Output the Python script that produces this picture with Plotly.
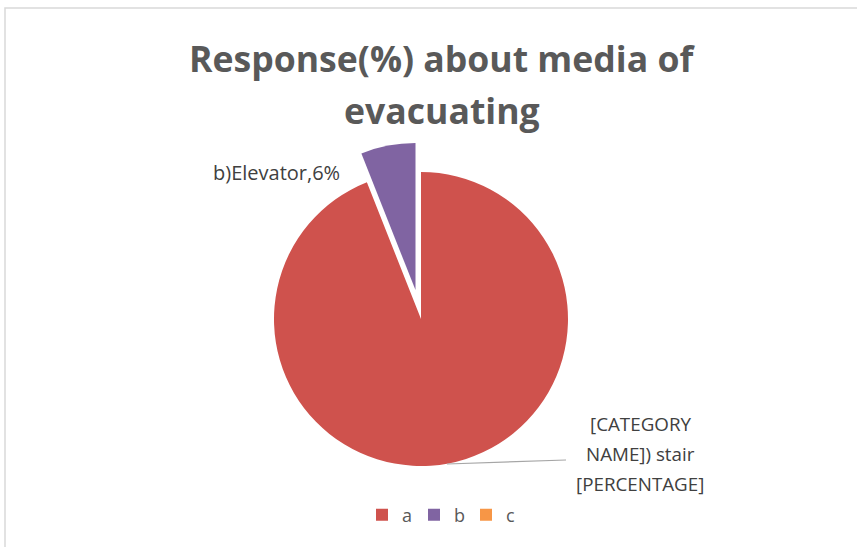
import plotly.graph_objects as go

# Data
categories = ["a", "b", "c"]
values = [94, 6, 0]
slice_colors = ["#CF524D", "#8064A2", "#F79646"]
pulls = [0, 0.2, 0]
label_a_lines = ["[CATEGORY", "NAME]) stair", "[PERCENTAGE]"]
label_b = "b)Elevator,6%"
title_lines = ["Response(%) about media of", "evacuating"]

W, H = 857, 547
cx, cy = 421, 319          # pie centre in px
R_out = 147 * 1.2          # radius incl. pull

fig = go.Figure(go.Pie(
    labels=categories,
    values=values,
    marker=dict(colors=slice_colors, line=dict(width=0)),
    pull=pulls,
    sort=False,
    direction="clockwise",
    rotation=0,
    textinfo="none",
    hoverinfo="label+percent",
    domain=dict(x=[(cx - 200) / W, (cx + 200) / W],
                y=[(H - cy - R_out) / H, (H - cy + R_out) / H]),
))

gray = "#595959"
annots = []
for txt, ypx in zip(title_lines, [58, 110]):
    annots.append(dict(text="<b>" + txt + "</b>", x=442 / W, y=(H - ypx) / H,
                       xref="paper", yref="paper", showarrow=False,
                       font=dict(size=35.6, color=gray, family="Open Sans"),
                       xanchor="center", yanchor="middle"))
annots.append(dict(text=label_b, x=276 / W, y=(H - 172) / H, xref="paper", yref="paper",
                   showarrow=False, font=dict(size=20, color="#404040"),
                   xanchor="center", yanchor="middle"))
for txt, ypx in zip(label_a_lines, [424, 454, 484]):
    annots.append(dict(text=txt, x=640 / W, y=(H - ypx) / H, xref="paper", yref="paper",
                       showarrow=False, font=dict(size=18.8, color="#404040"),
                       xanchor="center", yanchor="middle"))

fig.update_layout(
    width=W, height=H,
    margin=dict(l=0, r=0, t=0, b=0),
    paper_bgcolor="white",
    font=dict(family="Open Sans", color=gray),
    showlegend=True,
    legend=dict(orientation="h", x=440 / W, xanchor="center", y=(H - 515) / H,
                yanchor="middle", font=dict(size=18, color=gray),
                itemwidth=30, entrywidth=7, entrywidthmode="pixels"),
    annotations=annots,
    shapes=[
        dict(type="line", xref="paper", yref="paper",
             x0=447 / W, y0=(H - 464) / H, x1=566 / W, y1=(H - 460) / H,
             line=dict(color="#A6A6A6", width=1.2)),
        dict(type="rect", xref="paper", yref="paper",
             x0=5 / W, y0=-0.1, x1=1.1, y1=(H - 8) / H,
             line=dict(color="#D9D9D9", width=1.5)),
    ],
)

fig.write_html("out.html", config={"displayModeBar": False},
               post_script="document.body.style.margin='0';")
